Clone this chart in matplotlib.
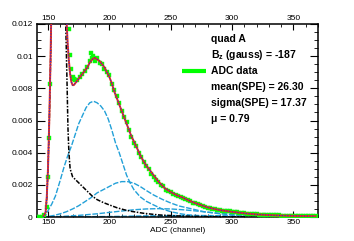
import matplotlib
matplotlib.use("Agg")
import matplotlib.pyplot as plt
from matplotlib.ticker import MultipleLocator, FixedLocator, FixedFormatter

plt.rcParams['font.family'] = ['Liberation Sans', 'DejaVu Sans']
plt.rcParams['mathtext.fontset'] = 'custom'
plt.rcParams['mathtext.rm'] = 'Liberation Sans'
plt.rcParams['mathtext.bf'] = 'Liberation Sans:bold'

# ---- data ----
data_x = [141, 143, 145, 147, 149, 150, 151, 152, 154, 156, 158, 160, 162, 164, 165,
          167, 168, 169, 170, 171, 172, 174, 176, 178, 180, 182, 184, 185, 186, 187,
          188, 190, 192, 194, 196, 198, 200, 202, 204, 206, 208, 210, 212, 214, 216,
          218, 220, 222, 224, 226, 228, 230, 232, 234, 236, 238, 240, 242, 244, 246,
          248, 250, 252, 254, 256, 258, 260, 262, 264, 266, 268, 270, 272, 274, 276,
          278, 280, 282, 284, 286, 288, 290, 292, 294, 296, 298, 300, 302, 304, 306,
          308, 310, 312, 314, 316, 318, 320, 322, 324, 326, 328, 330, 332, 334, 336,
          338, 340, 342, 344, 346, 348, 350, 352, 354, 356, 358, 360, 362, 364, 366, 368]
data_y = [0.0, 0.0, 0.0, 0.0001, 0.0006, 0.0025, 0.0049, 0.0083, 0.02, 0.026, 0.03, 0.028, 0.023, 0.016, 0.0128,
          0.0117, 0.0101, 0.0092, 0.0087, 0.0086, 0.0085, 0.0085, 0.0087, 0.0089, 0.0091, 0.0093, 0.0097, 0.0102, 0.0099, 0.0100,
          0.0097, 0.0099, 0.0096, 0.0095, 0.0092, 0.0090, 0.0088, 0.0083, 0.0079, 0.0075, 0.0071, 0.0066, 0.0062, 0.0059, 0.0054,
          0.0050, 0.0046, 0.0044, 0.0040, 0.0037, 0.0034, 0.0032, 0.0030, 0.0027, 0.0025, 0.0023, 0.0022, 0.0020, 0.0019, 0.0017,
          0.0016, 0.00155, 0.0014, 0.00135, 0.00128, 0.00122, 0.00118, 0.00112, 0.00105, 0.00098, 0.0009, 0.00084, 0.00078, 0.00072, 0.00067,
          0.00062, 0.00058, 0.00054, 0.0005, 0.00047, 0.00044, 0.00042, 0.00039, 0.00038, 0.00036, 0.00035, 0.00033, 0.0003, 0.00028, 0.00026,
          0.00025, 0.00023, 0.00021, 0.0002, 0.00018, 0.00017, 0.00016, 0.00015, 0.00014, 0.00013, 0.00013, 0.00012, 0.00012, 0.00011, 0.0001,
          0.0001, 0.00009, 0.00009, 0.00008, 0.00008, 0.00008, 0.00007, 0.00007, 0.00007, 0.00006, 0.00006, 0.00006, 0.00006, 0.00005, 0.00005, 0.00005]

fit_x = [146, 148, 149, 150, 151, 152, 153, 154, 156, 158.5, 161, 163, 164, 165, 166, 167, 168, 169,
         170, 171, 172, 174, 176, 178, 180, 182, 184, 186, 188, 190, 192, 194, 196, 198, 200, 202,
         204, 206, 208, 210, 212, 214, 216, 218, 220, 223, 226, 230, 235, 240, 245, 250, 255, 260,
         265, 270, 280, 290, 300, 310, 320, 330, 340, 350, 360, 368]
fit_y = [0.0, 0.0003, 0.0013, 0.0031, 0.006, 0.0097, 0.0142, 0.019, 0.026, 0.030, 0.026, 0.019, 0.0155, 0.0123, 0.0108, 0.0097, 0.0089, 0.0084,
         0.0082, 0.0082, 0.0083, 0.0085, 0.0087, 0.0089, 0.0091, 0.0093, 0.0096, 0.0098, 0.0099, 0.0098, 0.0097, 0.0095, 0.0093, 0.0090, 0.0087, 0.0083,
         0.0078, 0.0074, 0.0070, 0.0066, 0.0062, 0.0058, 0.0054, 0.0050, 0.0047, 0.0042, 0.0037, 0.0032, 0.0027, 0.0022, 0.0018, 0.00155, 0.00135, 0.0012,
         0.00102, 0.00086, 0.0006, 0.00043, 0.00032, 0.00023, 0.00016, 0.00012, 0.00009, 0.00007, 0.00006, 0.00005]

ped_x = [145, 148, 149, 150, 151, 152, 153, 155, 158.5, 162, 164, 165, 165.6, 166.2, 167, 168, 170, 174,
         178, 182, 186, 190, 195, 200, 206, 212, 218, 228, 240, 255, 270, 300, 370]
ped_y = [0.0, 0.0002, 0.0012, 0.0030, 0.0058, 0.0095, 0.014, 0.022, 0.028, 0.022, 0.0135, 0.0100, 0.0079, 0.0056, 0.0040, 0.0030, 0.0025, 0.0022,
         0.0019, 0.0016, 0.0013, 0.00108, 0.0009, 0.00075, 0.00058, 0.00045, 0.00035, 0.00023, 0.00013, 0.00007, 0.00004, 0.00001, 0.0]

pe1_x = [145, 148, 150, 153, 156, 158, 160, 163, 166, 169, 172, 175, 178, 181, 184, 187, 190, 193, 196,
         199, 202, 205, 208, 211, 214, 217, 220, 225, 230, 236, 243, 250, 258, 265, 275, 290, 310, 370]
pe1_y = [0.0, 0.0001, 0.0004, 0.0008, 0.0013, 0.0018, 0.0023, 0.0031, 0.0038, 0.0044, 0.0051, 0.0058, 0.0063, 0.0068, 0.0071, 0.0072, 0.0071, 0.0069, 0.0066,
         0.0061, 0.0054, 0.0046, 0.0040, 0.0033, 0.0026, 0.0021, 0.0017, 0.00126, 0.00098, 0.00075, 0.0005, 0.00033, 0.0002, 0.00012, 0.00006, 0.00002, 0.0, 0.0]

pe2_x = [145, 150, 155, 160, 165, 170, 175, 180, 185, 190, 195, 200, 205, 210, 215, 220, 225, 230,
         236, 243, 250, 257, 264, 277, 290, 305, 320, 340, 370]
pe2_y = [0.0, 0.00003, 0.0001, 0.0002, 0.00033, 0.0005, 0.0007, 0.00095, 0.0012, 0.0015, 0.0017, 0.0019, 0.0021, 0.0022, 0.0022, 0.0021, 0.0019, 0.00165,
         0.00137, 0.0011, 0.00087, 0.00068, 0.00056, 0.00033, 0.0002, 0.0001, 0.00005, 0.00002, 0.0]

pe3_x = [145, 160, 175, 190, 205, 220, 230, 240, 250, 260, 270, 280, 290, 300, 315, 330, 350, 370]
pe3_y = [0.0, 0.00003, 0.0001, 0.0002, 0.00033, 0.00045, 0.0005, 0.00052, 0.0005, 0.00045, 0.00038, 0.0003, 0.00023, 0.00017, 0.0001, 0.00005, 0.00002, 0.00001]

pe4_x = [145, 200, 230, 266, 300, 330, 370]
pe4_y = [0.0, 0.00003, 0.00007, 0.0001, 0.00007, 0.00004, 0.00001]

pe5_x = [145, 220, 290, 370]
pe5_y = [0.0, 0.00001, 0.00002, 0.00001]

y_ticks = [0, 0.002, 0.004, 0.006, 0.008, 0.01, 0.012]
y_ticklabels = ['0', '0.002', '0.004', '0.006', '0.008', '0.01', '0.012']
x_ticks = [150, 200, 250, 300, 350]

legend_lines = ['quad A', r'B$_\mathbf{z}$ (gauss) = -187', 'ADC data',
                'mean(SPE) = 26.30', 'sigma(SPE) = 17.37', 'μ = 0.79']

# ---- figure ----
fig = plt.figure(figsize=(3.54, 2.41), dpi=100)
ax = fig.add_axes([37/354, 24/241, 281/354, 193/241])

cyan = '#22a0d8'
for px, py in [(pe5_x, pe5_y), (pe4_x, pe4_y), (pe3_x, pe3_y), (pe2_x, pe2_y), (pe1_x, pe1_y)]:
    ax.plot(px, py, color=cyan, lw=1.0, ls=(0, (4, 1.2)), zorder=2)

ax.plot(ped_x, ped_y, color='black', lw=1.1, ls=(0, (3, 1, 1, 1)), zorder=3)

ax.plot(data_x, data_y, ls='none', marker='s', ms=3.4, mfc='#00ff00', mec='#22ee22',
        mew=0.3, zorder=4)
ax.plot(fit_x, fit_y, color='#e8301c', lw=1.4, zorder=5)
ax.plot(fit_x, fit_y, color='#2828e0', lw=0.8, ls=(0, (1, 1.5)), zorder=6)

ax.set_xlim(141, 370)
ax.set_ylim(0, 0.012)

ax.xaxis.set_major_locator(FixedLocator(x_ticks))
ax.xaxis.set_minor_locator(MultipleLocator(10))
ax.yaxis.set_major_locator(FixedLocator(y_ticks))
ax.yaxis.set_major_formatter(FixedFormatter(y_ticklabels))
ax.yaxis.set_minor_locator(MultipleLocator(0.0005))

ax.tick_params(axis='x', which='both', direction='in', top=True, bottom=True,
               labeltop=True, labelbottom=True, labelsize=6, pad=1.5)
ax.tick_params(axis='x', which='major', length=4.2, width=0.8)
ax.tick_params(axis='x', which='minor', length=2.1, width=0.6)
ax.tick_params(axis='y', which='both', direction='in', left=True, right=True,
               labelsize=6, pad=3)
ax.tick_params(axis='y', which='major', length=6, width=0.8)
ax.tick_params(axis='y', which='minor', length=3, width=0.6)

for sp in ax.spines.values():
    sp.set_linewidth(1.1)

ax.set_xlabel('ADC (channel)', fontsize=6, labelpad=1)

# legend block
ys = [0.922, 0.839, 0.756, 0.674, 0.591, 0.508]
for t, yy in zip(legend_lines, ys):
    ax.text(0.619, yy, t, transform=ax.transAxes, fontsize=7.5, fontweight='bold',
            va='center', ha='left')
ax.plot([0.516, 0.601], [0.756, 0.756], transform=ax.transAxes, color='#00ff00',
        lw=3.0, solid_capstyle='butt', clip_on=False)

fig.savefig('out.png', dpi=100)
